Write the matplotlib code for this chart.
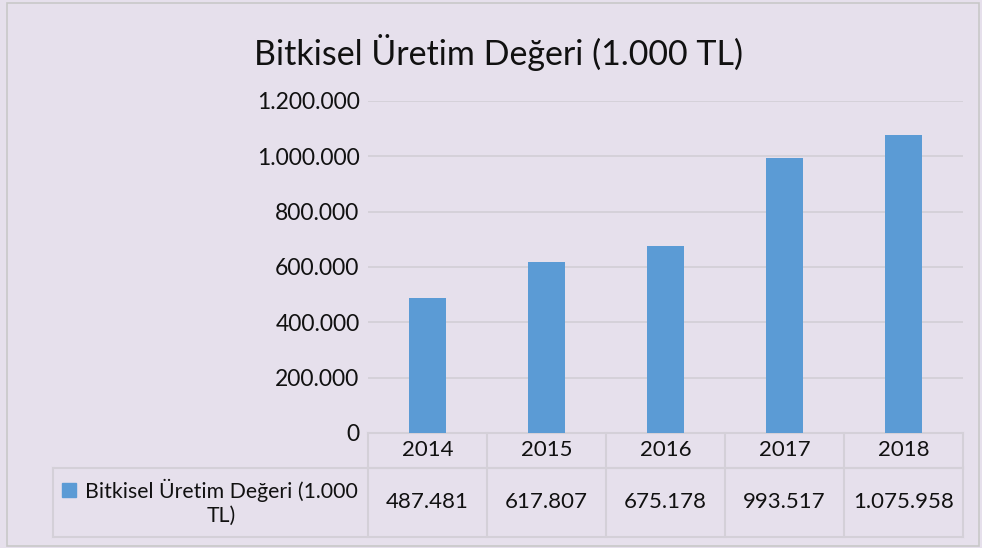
import matplotlib
matplotlib.use("Agg")
import matplotlib.pyplot as plt
from matplotlib.patches import Rectangle
from matplotlib.lines import Line2D

# data
years = ["2014", "2015", "2016", "2017", "2018"]
values = [487481, 617807, 675178, 993517, 1075958]
series_name = "Bitkisel Üretim Değeri (1.000 TL)"
yticks = [0, 200000, 400000, 600000, 800000, 1000000, 1200000]

bg = "#E6E0EC"
bar_color = "#5B9BD5"
line_color = "#D4D0D8"
txt = "#111111"

plt.rcParams["font.family"] = ["Lato", "DejaVu Sans"]


def tr_fmt(v):
    return f"{v:,}".replace(",", ".")


fig = plt.figure(figsize=(9.82, 5.48), dpi=100)
fig.patch.set_facecolor(bg)
fig.patches.append(Rectangle((0.007, 0.004), 0.99, 0.99, transform=fig.transFigure,
                             fill=False, edgecolor="#C8C8C8", linewidth=1.2))

ax = fig.add_axes([0.3747, 0.2099, 0.6059, 0.6058])
ax.set_facecolor(bg)

x = list(range(len(years)))
ax.bar(x, values, width=0.31, color=bar_color, zorder=3)
ax.set_xlim(-0.5, len(years) - 0.5)
ax.set_ylim(0, 1200000)
ax.set_yticks(yticks)
ax.set_yticklabels([tr_fmt(v) for v in yticks], fontsize=16.5, color=txt)
ax.tick_params(axis="y", length=0, pad=6)
ax.set_xticks([])
ax.grid(axis="y", color=line_color, linewidth=1.3, zorder=0)
for s in ax.spines.values():
    s.set_visible(False)

fig.text(0.508, 0.905, series_name, ha="center", va="center", fontsize=24.5, color=txt)

# data table under the plot
tr = ax.get_xaxis_transform()
row1 = -0.1054
row2 = -0.3133
leg_left = -0.529
lw = 1.5
for xb in [i - 0.5 for i in range(len(years) + 1)]:
    ax.add_line(Line2D([xb, xb], [0, row2], transform=tr, color=line_color, lw=lw, clip_on=False))
ax.add_line(Line2D([-0.5, len(years) - 0.5], [0, 0], transform=tr, color=line_color, lw=lw, clip_on=False))
ax.add_line(Line2D([-0.5, len(years) - 0.5], [row1, row1], transform=tr, color=line_color, lw=lw, clip_on=False))
ax.add_line(Line2D([leg_left, 1], [row1, row1], transform=ax.transAxes, color=line_color, lw=lw, clip_on=False))
ax.add_line(Line2D([leg_left, 1], [row2, row2], transform=ax.transAxes, color=line_color, lw=lw, clip_on=False))
ax.add_line(Line2D([leg_left, leg_left], [row1, row2], transform=ax.transAxes, color=line_color, lw=lw, clip_on=False))

for i, (yr, v) in enumerate(zip(years, values)):
    ax.text(i, row1 / 2, yr, transform=tr, ha="center", va="center", fontsize=16, color=txt)
    ax.text(i, (row1 + row2) / 2, tr_fmt(v), transform=tr, ha="center", va="center",
            fontsize=16, color=txt)

# legend key in the first table cell
ax.add_patch(Rectangle((-0.514, -0.193), 0.0235, 0.042, transform=ax.transAxes,
                       color=bar_color, clip_on=False))
ax.text(-0.246, (row1 + row2) / 2, "Bitkisel Üretim Değeri (1.000\nTL)", transform=ax.transAxes,
        ha="center", va="center", fontsize=15.3, color=txt, linespacing=1.2)

fig.savefig("out.png", dpi=100, facecolor=bg)
